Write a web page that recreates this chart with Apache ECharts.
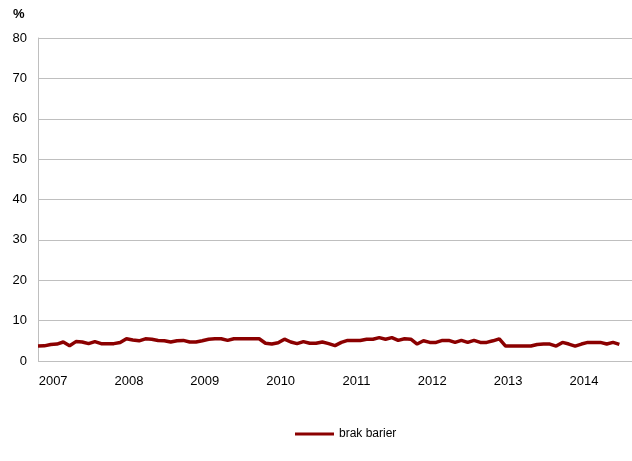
<!DOCTYPE html>
<html>
<head>
<meta charset="utf-8">
<script src="https://cdn.jsdelivr.net/npm/echarts@6/dist/echarts.min.js"></script>
<style>html,body{margin:0;padding:0;background:#fff;}#c{width:632px;height:461px;}</style>
</head>
<body>
<div id="c"></div>
<script>
// Monthly categories: Nov 2006 .. Sep 2014 (last two are empty padding months)
var startYear = 2006, startMonth = 11, monthCount = 95;
var categories = [];
for (var i = 0; i < monthCount; i++) {
  var m = startMonth - 1 + i;
  var y = startYear + Math.floor(m / 12);
  var mm = (m % 12) + 1;
  categories.push(y + '-' + (mm < 10 ? '0' + mm : mm));
}
var seriesName = 'brak barier';
var values = [
  3.7, 3.75, 4.1, 4.2, 4.7, 3.8, 4.8, 4.7, 4.3, 4.8, 4.3, 4.3, 4.3, 4.6,
  5.5, 5.2, 5.0, 5.5, 5.4, 5.1, 5.0, 4.7, 5.0, 5.1, 4.7, 4.7,
  5.0, 5.4, 5.5, 5.5, 5.1, 5.5, 5.5, 5.5, 5.5, 5.5, 4.4, 4.2,
  4.5, 5.4, 4.7, 4.3, 4.8, 4.4, 4.4, 4.7, 4.3, 3.8, 4.6, 5.1,
  5.1, 5.1, 5.4, 5.4, 5.8, 5.4, 5.8, 5.1, 5.5, 5.4, 4.2, 5.0,
  4.6, 4.6, 5.1, 5.1, 4.6, 5.1, 4.6, 5.1, 4.6, 4.6, 5.0, 5.5,
  3.7, 3.7, 3.7, 3.7, 3.7, 4.1, 4.2, 4.2, 3.7, 4.6, 4.2, 3.7,
  4.2, 4.6, 4.6, 4.6, 4.2, 4.6, 4.1
];
var yTicks = { min: 0, max: 80, interval: 10 };

var chart = echarts.init(document.getElementById('c'), null, { renderer: 'canvas' });
chart.setOption({
  animation: false,
  backgroundColor: '#fff',
  title: {
    text: '%', left: 13, top: 8, padding: 0,
    textStyle: { fontFamily: 'Liberation Sans, Arial', fontSize: 13, fontWeight: 'bold', color: '#000' }
  },
  grid: { left: 38, right: 0, top: 38, bottom: 100 },
  xAxis: {
    type: 'category',
    data: categories,
    boundaryGap: false,
    axisLine: { show: false },
    axisTick: { show: false },
    splitLine: { show: false },
    axisLabel: {
      interval: function (idx, val) { return val.slice(5) === '01'; },
      formatter: function (val) { return val.slice(0, 4); },
      margin: 14,
      padding: [0, 0, 0, 5],
      fontFamily: 'Liberation Sans, Arial', fontSize: 13, color: '#000'
    }
  },
  yAxis: {
    type: 'value',
    min: yTicks.min, max: yTicks.max, interval: yTicks.interval,
    axisLine: { show: true, lineStyle: { color: '#bfbfbf', width: 1 } },
    axisTick: { show: false },
    splitLine: { show: true, lineStyle: { color: '#bfbfbf', width: 1 } },
    axisLabel: { margin: 11, fontFamily: 'Liberation Sans, Arial', fontSize: 13, color: '#000' }
  },
  legend: {
    left: 295, top: 428, padding: 0,
    icon: 'rect',
    itemWidth: 39, itemHeight: 3, itemGap: 10,
    textStyle: { fontFamily: 'Liberation Sans, Arial', fontSize: 12, color: '#000' },
    data: [seriesName]
  },
  series: [{
    name: seriesName,
    type: 'line',
    data: values,
    symbol: 'none',
    smooth: false,
    lineStyle: { color: '#8b0000', width: 3.5 },
    itemStyle: { color: '#8b0000' }
  }]
});
</script>
</body>
</html>
